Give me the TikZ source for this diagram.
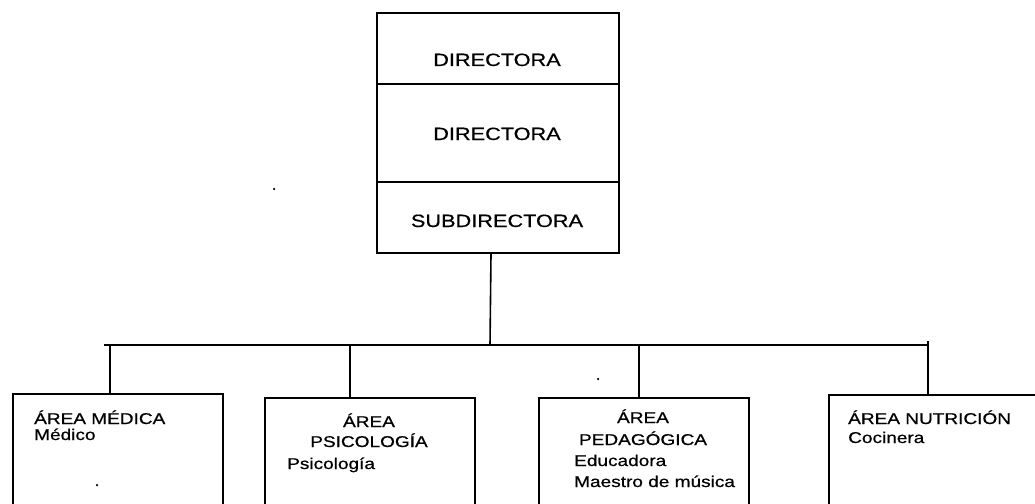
\documentclass[tikz,border=0pt]{standalone}
\usepackage{fontspec}
\newfontfamily\lab[FakeStretch=1.22,FakeBold=0.6]{Liberation Sans}
\begin{document}
\begin{tikzpicture}[x=1pt,y=-1pt,
  box/.style={draw=black,line width=2pt,rectangle,inner sep=0pt,anchor=north west},
  conn/.style={draw=black,line width=1.6pt},
  toptxt/.style={font=\lab\fontsize{17.8}{20}\selectfont,inner sep=0pt,anchor=base},
  txt/.style={font=\lab\fontsize{15.6}{18}\selectfont,inner sep=0pt},
  speck/.style={fill=black,circle,inner sep=0pt,minimum size=2.5pt}]
\useasboundingbox (0,0) rectangle (1035,503);
% top column
\node[box,minimum width=242pt,minimum height=71pt] (d1) at (376,12) {};
\node[box,minimum width=242pt,minimum height=98pt] (d2) at (376,83) {};
\node[box,minimum width=242pt,minimum height=71pt] (sub) at (376,181) {};
\node[toptxt] (t1) at (497,66) {DIRECTORA};
\node[toptxt] (t2) at (497,140) {DIRECTORA};
\node[toptxt] (t3) at (497,227) {SUBDIRECTORA};
% bottom boxes
\node[box,minimum width=210pt,minimum height=140pt] (b1) at (12,393) {};
\node[box,minimum width=210pt,minimum height=140pt] (b2) at (264,397) {};
\node[box,minimum width=210pt,minimum height=140pt] (b3) at (538,397) {};
\node[box,minimum width=230pt,minimum height=140pt] (b4) at (828,394) {};
% bus
\coordinate (j0) at (490,345);
\coordinate (bl) at (104,345);
\coordinate (j1) at (110,345);
\coordinate (j2) at (350,345);
\coordinate (j3) at (639,345);
\coordinate (j4) at (928,345);
\coordinate (j4t) at (928,341);
\draw[conn] ([xshift=-7pt]sub.south) -- (j0);
\draw[conn] (bl) -- (j4);
\draw[conn] (j1) -- (j1 |- b1.north);
\draw[conn] (j2) -- (j2 |- b2.north);
\draw[conn] (j3) -- (j3 |- b3.north);
\draw[conn] (j4t) -- (j4 |- b4.north);
% texts
\node[txt,anchor=base west] (a1) at (34,424) {ÁREA MÉDICA};
\node[txt,anchor=base west] (a1b) at (34,440) {Médico};
\node[txt,anchor=base] (a2) at (369,427) {ÁREA};
\node[txt,anchor=base] (a2b) at (369,447) {PSICOLOGÍA};
\node[txt,anchor=base west] (a2c) at (287,469) {Psicología};
\node[txt,anchor=base] (a3) at (643,423) {ÁREA};
\node[txt,anchor=base] (a3b) at (643,445) {PEDAGÓGICA};
\node[txt,anchor=base west] (a3c) at (574,466) {Educadora};
\node[txt,anchor=base west] (a3d) at (574,487) {Maestro de música};
\node[txt,anchor=base west] (a4) at (848,424) {ÁREA NUTRICIÓN};
\node[txt,anchor=base west] (a4b) at (848,443) {Cocinera};
% specks
\node[speck] (s1) at (274,189) {};
\node[speck] (s2) at (97,485) {};
\node[speck] (s3) at (598,379) {};
\end{tikzpicture}
\end{document}
